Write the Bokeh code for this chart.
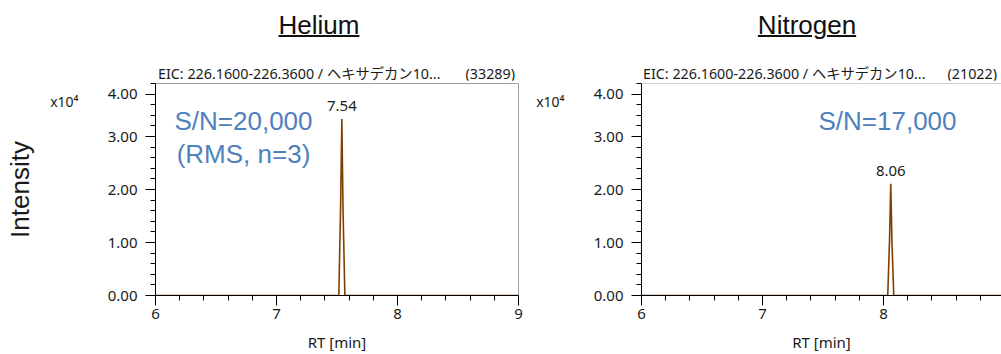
from bokeh.plotting import figure
from bokeh.models import Label, Span, FixedTicker, Div, Range1d, LinearAxis
from bokeh.layouts import column, row
from bokeh.embed import file_html
from bokeh.resources import INLINE

# ---------------- data ----------------
panel_titles = ["Helium", "Nitrogen"]
eic_titles = ["EIC: 226.1600-226.3600 / ヘキサデカン10...",
              "EIC: 226.1600-226.3600 / ヘキサデカン10..."]
eic_counts = ["(33289)", "(21022)"]
sn_lines = [["S/N=20,000", "(RMS, n=3)"], ["S/N=17,000"]]

# chromatogram traces (RT in min, intensity in x10^4)
he_rt = [6.00, 7.50, 7.515, 7.53, 7.54, 7.55, 7.565, 7.58, 9.00]
he_int = [0.00, 0.00, 0.00, 1.70, 3.33, 1.60, 0.00, 0.00, 0.00]
n2_rt = [6.00, 8.02, 8.035, 8.05, 8.06, 8.07, 8.085, 8.10, 9.00]
n2_int = [0.00, 0.00, 0.00, 1.05, 2.11, 1.00, 0.00, 0.00, 0.00]

peak_rt = [7.54, 8.06]
peak_height = [3.33, 2.11]
peak_labels = ["7.54", "8.06"]

x_ticks = [6, 7, 8, 9]
x_tick_labels = ["6", "7", "8", "9"]
y_ticks = [0, 1, 2, 3, 3.8]
y_tick_labels = ["0.00", "1.00", "2.00", "3.00", "4.00"]
unit_ticks = [3.66]
unit_labels = ["x10\u2074"]
x_label = "RT [min]"
y_label = "Intensity"

# ---------------- style ----------------
TICK_FONT = "Noto Sans"
BIG_FONT = "Liberation Sans"
TRACE = "#7F3F00"
SN_BLUE = "#4F81BD"
FRAME_GRAY = "#A0A0A0"
TXT = "#1a1a1a"

HEAD_H = 80
FIG_H = 354 - HEAD_H
MB_TOP = 83 - HEAD_H
MB_BOT = FIG_H - MB_TOP - 213

x_minor = [round(6 + 0.2 * i, 1) for i in range(16) if (i % 5) != 0]
y_minor = [round(0.2 * i, 1) for i in range(21) if (i % 5) != 0 and i != 19] + [4.0]


def make_panel(idx, rt, inten, x_end, width, mbl, mbr, full_outline, with_ylabel):
    p = figure(width=width, height=FIG_H,
               x_range=Range1d(6, x_end), y_range=Range1d(0, 4.0),
               output_backend="svg", toolbar_location=None,
               min_border_left=mbl, min_border_right=mbr,
               min_border_top=MB_TOP, min_border_bottom=MB_BOT)
    p.title.visible = False
    p.xgrid.visible = False
    p.ygrid.visible = False
    p.background_fill_color = "white"
    p.border_fill_color = "white"
    if full_outline:
        p.outline_line_color = FRAME_GRAY
    else:
        p.outline_line_color = None
        p.add_layout(Span(location=4.0, dimension="width",
                          line_color=FRAME_GRAY, line_width=1))

    p.line(rt, inten, line_color=TRACE, line_width=1.6)

    for ax in (p.xaxis[0], p.yaxis[0]):
        ax.axis_line_color = "black"
        ax.major_tick_line_color = "black"
        ax.minor_tick_line_color = "black"
        ax.major_tick_in = 0
        ax.minor_tick_in = 0
        ax.major_tick_out = 10
        ax.minor_tick_out = 5
        ax.major_label_text_font = TICK_FONT
        ax.major_label_text_font_size = "15px"
        ax.major_label_text_color = TXT

    p.xaxis.ticker = FixedTicker(ticks=x_ticks, minor_ticks=x_minor)
    p.xaxis.major_label_overrides = {t: l for t, l in zip(x_ticks, x_tick_labels)}
    p.xaxis.major_label_standoff = 3
    p.xaxis.axis_label = x_label
    p.xaxis.axis_label_text_font = TICK_FONT
    p.xaxis.axis_label_text_font_size = "15px"
    p.xaxis.axis_label_text_font_style = "normal"
    p.xaxis.axis_label_text_color = TXT
    p.xaxis.axis_label_standoff = 10

    p.yaxis.ticker = FixedTicker(ticks=y_ticks, minor_ticks=y_minor)
    p.yaxis.major_label_overrides = {t: l for t, l in zip(y_ticks, y_tick_labels)}
    p.yaxis.major_label_standoff = 8

    # unit axis ("x10^4") stacked outside the main y axis
    unit_ax = LinearAxis(ticker=FixedTicker(ticks=unit_ticks, minor_ticks=[]),
                         major_label_overrides={t: l for t, l in zip(unit_ticks, unit_labels)},
                         axis_line_color=None, major_tick_line_color=None,
                         minor_tick_line_color=None,
                         major_tick_out=0, major_tick_in=0,
                         major_label_standoff=26,
                         major_label_text_font=TICK_FONT,
                         major_label_text_font_size="14px",
                         major_label_text_color=TXT)
    if with_ylabel:
        unit_ax.axis_label = y_label
        unit_ax.axis_label_text_font = BIG_FONT
        unit_ax.axis_label_text_font_size = "26px"
        unit_ax.axis_label_text_font_style = "normal"
        unit_ax.axis_label_text_color = TXT
        unit_ax.axis_label_standoff = 12
    p.add_layout(unit_ax, "left")

    # peak label
    p.add_layout(Label(x=peak_rt[idx], y=peak_height[idx], y_offset=8,
                       text=peak_labels[idx], text_font=TICK_FONT,
                       text_font_size="15px", text_color=TXT,
                       text_align="center", text_baseline="bottom"))
    return p


p1 = make_panel(0, he_rt, he_int, 9.0, 523, 155, 5, True, True)
p2 = make_panel(1, n2_rt, n2_int, 6 + 360 / 121, 478, 118, 0, False, False)

# S/N annotations
for k, line in enumerate(sn_lines[0]):
    p1.add_layout(Label(x=6, y=4.0, x_offset=88, y_offset=-37 - 33 * k, text=line,
                        text_font=BIG_FONT, text_font_size="26px", text_color=SN_BLUE,
                        text_align="center", text_baseline="middle"))
for k, line in enumerate(sn_lines[1]):
    p2.add_layout(Label(x=6, y=4.0, x_offset=246, y_offset=-37 - 33 * k, text=line,
                        text_font=BIG_FONT, text_font_size="26px", text_color=SN_BLUE,
                        text_align="center", text_baseline="middle"))

BIG = ("font-family:'Liberation Sans',Arial,sans-serif;font-size:26px;line-height:26px;"
       "color:#111;text-decoration:underline;text-decoration-thickness:1.5px;")
SMALL = ("font-family:'Noto Sans','Noto Sans CJK JP',sans-serif;font-size:14.3px;"
         "line-height:14px;color:#1a1a1a;white-space:nowrap;")

title_html = (
    '<div style="position:relative;width:1001px;height:%dpx;">' % HEAD_H
    + '<div style="position:absolute;left:219px;top:12px;width:200px;text-align:center;%s">%s</div>'
    % (BIG, panel_titles[0])
    + '<div style="position:absolute;left:707px;top:12px;width:200px;text-align:center;%s">%s</div>'
    % (BIG, panel_titles[1])
    + '<div style="position:absolute;left:158px;top:67px;%s">%s</div>' % (SMALL, eic_titles[0])
    + '<div style="position:absolute;left:315px;top:67px;width:200px;text-align:right;%s">%s</div>'
    % (SMALL, eic_counts[0])
    + '<div style="position:absolute;left:643px;top:67px;%s">%s</div>' % (SMALL, eic_titles[1])
    + '<div style="position:absolute;left:797px;top:67px;width:200px;text-align:right;%s">%s</div>'
    % (SMALL, eic_counts[1])
    + '</div>'
)
titles = Div(text=title_html, width=1001, height=HEAD_H, margin=0)

layout = column(titles, row(p1, p2, spacing=0), spacing=0)

open("out.html", "w").write(file_html(layout, INLINE))
